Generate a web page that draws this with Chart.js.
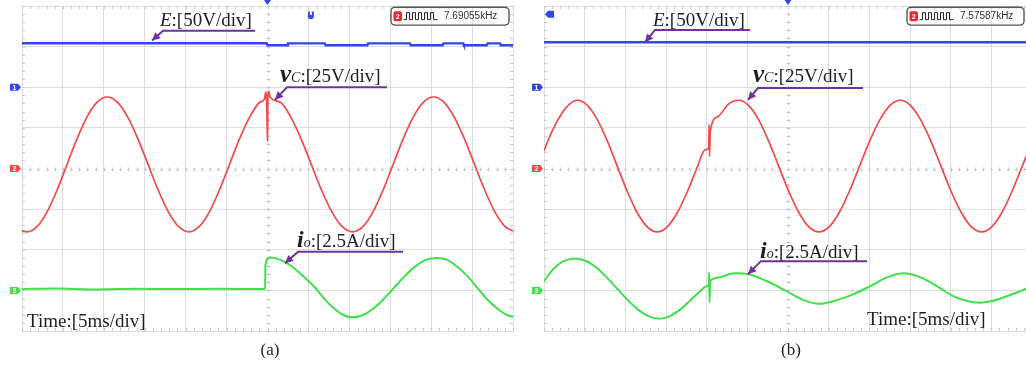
<!DOCTYPE html>
<html lang="en">
<head>
<meta charset="UTF-8">
<meta name="viewport" content="width=device-width, initial-scale=1.0">
<title>Scope captures (a) and (b)</title>
<script src="https://cdn.jsdelivr.net/npm/chart.js"></script>
<style>
    body {
        margin: 0;
        width: 1026px;
        height: 367px;
        overflow: hidden;
        position: relative;
        background: #fff;
    }
    canvas {
        position: absolute;
        top: 0;
    }
    #scopeA { left: 0; }
    #scopeB { left: 520px; }
</style>
</head>
<body>
<canvas id="scopeA" width="520" height="367"></canvas>
<canvas id="scopeB" width="520" height="367"></canvas>
<script>
// screen grid: 12 divisions of 5 ms across, 8 divisions up
const timeDivs = [0, 5, 10, 15, 20, 25, 30, 35, 40, 45, 50, 55, 60];
const screenDivs = [-4, -3, -2, -1, 0, 1, 2, 3, 4];

// channel sensitivity (per div) and ground marker position (div)
const eScale = 50, vcScale = 25, ioScale = 2.5;
const eOffset = 2, vcOffset = 0, ioOffset = -3;

// ---- capture (a): load switched in at 30 ms ----
const eTimeA = [0, 29.9, 30.0, 32.4, 32.5, 37.0, 37.1, 42.2, 42.3, 47.4, 47.5, 51.4, 51.5, 53.9, 54.0, 56.8, 56.9, 58.4, 58.5, 60];
const eA     = [54.2, 54.2, 51.7, 51.7, 54.0, 54.0, 51.7, 51.7, 54.0, 54.0, 51.7, 51.7, 54.0, 54.0, 51.7, 51.7, 54.0, 54.0, 51.7, 51.7];

const vcTimeA = [0, 0.6, 1.83, 3.05, 4.28, 5.5, 6.73, 7.95, 9.18, 10.4,
                 11.65, 12.9, 14.15, 15.4, 16.65, 17.9, 19.15, 20.4,
                 21.64, 22.88, 24.11, 25.35, 26.59, 27.83, 29.06, 29.6, 29.8, 29.9, 30.0, 30.05, 30.15, 30.3,
                 31.56, 32.83, 34.09, 35.35, 36.61, 37.88, 39.14, 40.4,
                 41.64, 42.88, 44.11, 45.35, 46.59, 47.83, 49.06, 50.3,
                 51.55, 52.8, 54.05, 55.3, 56.55, 57.8, 59.05, 60.3];
const vcA     = [-38.2, -39, -35.8, -26.8, -13.4, 2.5, 18.4, 31.8, 40.8, 44,
                 40.8, 31.8, 18.4, 2.5, -13.4, -26.8, -35.8, -39,
                 -35.8, -26.8, -13.4, 2.5, 18.4, 31.8, 40.8, 42.5, 47, 41, 17, 46, 47.5, 44,
                 40.8, 31.8, 18.4, 2.5, -13.4, -26.8, -35.8, -39,
                 -35.8, -26.8, -13.4, 2.5, 18.4, 31.8, 40.8, 44,
                 40.8, 31.8, 18.4, 2.5, -13.4, -26.8, -35.8, -39];

const ioTimeA = [0, 4, 9, 14, 19, 24, 29.7, 29.75, 30.3, 31.6, 32.9, 34.3, 35.8, 37.0, 38.1, 39.2, 40.3,
                 41.6, 42.9, 44.2, 45.5, 46.8, 48.1, 49.4, 50.7, 51.9, 53.1, 54.4, 55.6, 56.8, 58.1, 59.3, 60];
const ioA     = [0.09, 0.12, 0.06, 0.1, 0.08, 0.1, 0.08, 1.6, 2.03, 1.88, 1.5, 0.9, 0.18, -0.55, -1.1, -1.5, -1.66,
                 -1.53, -1.13, -0.53, 0.18, 0.89, 1.49, 1.89, 2.0, 1.89, 1.49, 0.89, 0.18, -0.53, -1.13, -1.53, -1.62];

// ---- capture (b): disturbance at about 20 ms ----
const eTimeB = [0, 60];
const eB     = [55.4, 55.4];

const vcTimeB = [0, 1.0, 2.2, 3.1, 4.1,
                 5.33, 6.55, 7.78, 9.0, 10.23, 11.45, 12.68, 13.9,
                 15.15, 16.4, 17.65, 18.9, 19.8, 20.25, 20.3, 20.35, 20.45, 21.4, 22.65, 23.9,
                 25.14, 26.38, 27.61, 28.85, 30.09, 31.33, 32.56, 33.8,
                 35.05, 36.3, 37.55, 38.8, 40.05, 41.3, 42.55, 43.8,
                 45.05, 46.3, 47.55, 48.8, 50.05, 51.3, 52.55, 53.8,
                 55.05, 56.3, 57.55, 58.8, 60];
const vcB     = [11, 23, 34, 39.5, 42,
                 38.9, 30.1, 17, 1.5, -14, -27.1, -35.9, -39,
                 -35.9, -27.1, -14, 1.5, 11.5, 12.5, 27, 7.4, 23, 32, 39.5, 42,
                 38.9, 30.1, 17, 1.5, -14, -27.1, -35.9, -39,
                 -35.9, -27.1, -14, 1.5, 17, 30.1, 38.9, 42,
                 38.9, 30.1, 17, 1.5, -14, -27.1, -35.9, -39,
                 -35.9, -27.1, -14, 1.5, 16];

const ioTimeB = [0, 1.1, 2.4, 3.8, 5.1, 6.4, 7.7, 9.0, 10.3, 11.6, 12.9, 14.1, 15.4, 16.7, 18.0, 19.2, 20.0,
                 20.25, 20.3, 20.35, 20.45, 21.6, 22.6, 23.7, 24.8, 25.7, 27.7, 29.8, 31.9, 33.9, 36.0, 38.0, 40.1,
                 42.2, 44.2, 46.3, 48.3, 50.3, 52.0, 53.6, 55.0, 56.4, 59.3, 60];
const ioB     = [0.57, 1.29, 1.8, 1.95, 1.82, 1.42, 0.8, 0.1, -0.6, -1.2, -1.6, -1.74, -1.6, -1.2, -0.6, -0.05, 0.26,
                 0.35, 1.1, -0.74, 0.6, 0.8, 0.98, 1.05, 1.02, 0.92, 0.5, -0.04, -0.6, -0.82, -0.6, -0.25, 0.26,
                 0.8, 1.05, 0.8, 0.26, -0.35, -0.65, -0.76, -0.66, -0.45, 0.1, 0.25];

const BLUE = '#3346e6';
const RED = '#f24a4a';
const GREEN = '#3fe04c';
const PURPLE = '#7030a0';
const GRID = '#dddddd';
const TICK = '#c9c9c9';
const INK = '#1e1e1e';

const SERIF = '"Liberation Serif", "Times New Roman", serif';
const LABEL_E = [['E', 'italic 19px ' + SERIF], [':[50V/div]', '19px ' + SERIF]];
const LABEL_VC = [['v', 'bold italic 25px ' + SERIF], ['C', 'italic 14px ' + SERIF], [':[25V/div]', '19px ' + SERIF]];
const LABEL_IO = [['i', 'bold italic 24px ' + SERIF], ['o', 'italic 14px ' + SERIF], [':[2.5A/div]', '19px ' + SERIF]];
const LABEL_TIME = [['Time:[5ms/div]', '19px ' + SERIF]];

// annotation layout, in (ms, div)
const decor = {
    scopeA: {
        labels: [[16.86, 3.51, LABEL_E], [31.53, 2.13, LABEL_VC], [33.6, -1.93, LABEL_IO], [0.61, -3.9, LABEL_TIME]],
        arrows: [
            [[28.47, 3.39], [17.23, 3.39], [15.89, 3.15]],
            [[44.6, 2.0], [32.38, 2.0], [30.92, 1.69]],
            [[46.56, -2.05], [33.73, -2.05], [32.14, -2.33]]
        ],
        caption: [30.3, -4.59, '(a)'],
        freq: [45.09, 3.97, 59.51, 3.53, '7.69055kHz'],
        level: [35.3, 3.78],
        topLeft: false
    },
    scopeB: {
        labels: [[13.4, 3.51, LABEL_E], [25.7, 2.13, LABEL_VC], [26.56, -2.2, LABEL_IO], [39.71, -3.85, LABEL_TIME]],
        arrows: [
            [[25.33, 3.41], [13.65, 3.41], [12.42, 3.11]],
            [[39.22, 1.98], [26.31, 1.98], [25.08, 1.69]],
            [[39.71, -2.28], [26.68, -2.28], [25.08, -2.6]]
        ],
        caption: [30.37, -4.59, '(b)'],
        freq: [44.63, 3.97, 59.02, 3.53, '7.57587kHz'],
        level: null,
        topLeft: true
    }
};

function drawRich(ctx, x, y, parts) {
    ctx.fillStyle = INK;
    ctx.textBaseline = 'alphabetic';
    ctx.textAlign = 'left';
    for (const [text, font] of parts) {
        ctx.font = font;
        ctx.fillText(text, x, y);
        x += ctx.measureText(text).width;
    }
}

function drawArrow(ctx, pts) {
    ctx.strokeStyle = PURPLE;
    ctx.fillStyle = PURPLE;
    ctx.lineWidth = 2;
    ctx.beginPath();
    ctx.moveTo(pts[0][0], pts[0][1]);
    for (let i = 1; i < pts.length; i++) ctx.lineTo(pts[i][0], pts[i][1]);
    ctx.stroke();
    const [kx, ky] = pts[pts.length - 2];
    const [tx, ty] = pts[pts.length - 1];
    const ang = Math.atan2(ty - ky, tx - kx);
    ctx.beginPath();
    ctx.moveTo(tx, ty);
    ctx.lineTo(tx - 8 * Math.cos(ang) + 4 * Math.sin(ang), ty - 8 * Math.sin(ang) - 4 * Math.cos(ang));
    ctx.lineTo(tx - 8 * Math.cos(ang) - 4 * Math.sin(ang), ty - 8 * Math.sin(ang) + 4 * Math.cos(ang));
    ctx.closePath();
    ctx.fill();
}

function channelTag(ctx, xr, y, color, num) {
    const xl = xr - 11;
    ctx.fillStyle = color;
    ctx.beginPath();
    ctx.moveTo(xl, y - 3.5);
    ctx.lineTo(xr - 3, y - 3.5);
    ctx.lineTo(xr, y);
    ctx.lineTo(xr - 3, y + 3.5);
    ctx.lineTo(xl, y + 3.5);
    ctx.closePath();
    ctx.fill();
    ctx.fillStyle = '#fff';
    ctx.font = 'bold 7px "Liberation Sans", sans-serif';
    ctx.textAlign = 'center';
    ctx.textBaseline = 'middle';
    ctx.fillText(num, xl + 4.5, y + 0.5);
}

function freqBox(ctx, x1, y1, x2, y2, text) {
    ctx.strokeStyle = '#555';
    ctx.lineWidth = 1.4;
    ctx.beginPath();
    ctx.roundRect(x1, y1, x2 - x1, y2 - y1, 4);
    ctx.stroke();
    const my = (y1 + y2) / 2;
    ctx.fillStyle = '#e82630';
    ctx.beginPath();
    ctx.roundRect(x1 + 2.5, my - 5, 8.5, 10, 2);
    ctx.fill();
    ctx.fillStyle = '#fff';
    ctx.font = 'bold 7px "Liberation Sans", sans-serif';
    ctx.textAlign = 'center';
    ctx.textBaseline = 'middle';
    ctx.fillText('2', x1 + 6.8, my + 0.5);
    // square-wave glyph
    ctx.strokeStyle = '#222';
    ctx.lineWidth = 1;
    ctx.beginPath();
    let wx = x1 + 12.5;
    const lo = my + 3.5, hi = my - 3.5;
    ctx.moveTo(wx, lo);
    wx += 3;
    for (let k = 0; k < 5; k++) {
        ctx.lineTo(wx, lo); ctx.lineTo(wx, hi);
        wx += 3; ctx.lineTo(wx, hi); ctx.lineTo(wx, lo);
        wx += 3;
    }
    ctx.lineTo(wx + 1, lo);
    ctx.stroke();
    ctx.fillStyle = '#333';
    ctx.font = '10px "Liberation Sans", sans-serif';
    ctx.textAlign = 'left';
    ctx.fillText(text, x1 + 53, my + 0.5);
}

const scopeDecor = {
    id: 'scopeDecor',
    beforeDatasetsDraw(chart) {
        const { ctx, chartArea: a } = chart;
        const x = chart.scales.x, y = chart.scales.yDiv;
        const cx = Math.round(x.getPixelForValue(30)) + 0.5;
        const cy = Math.round(y.getPixelForValue(0)) + 0.5;
        ctx.save();
        ctx.strokeStyle = TICK;
        ctx.lineWidth = 1;
        ctx.beginPath();
        // minor ticks, 5 per division, on the centre lines and the frame
        for (let i = 0; i <= 60; i++) {
            const p = Math.round(x.getPixelForValue(i)) + 0.5;
            ctx.moveTo(p - 1.5, cy); ctx.lineTo(p + 1.5, cy);
            ctx.moveTo(p, cy - 2); ctx.lineTo(p, cy + 2);
            ctx.moveTo(p, a.top); ctx.lineTo(p, a.top + 3);
            ctx.moveTo(p, a.bottom); ctx.lineTo(p, a.bottom - 3);
        }
        for (let i = 0; i <= 40; i++) {
            const q = Math.round(y.getPixelForValue(-4 + i * 0.2)) + 0.5;
            ctx.moveTo(cx, q - 1.5); ctx.lineTo(cx, q + 1.5);
            ctx.moveTo(cx - 2, q); ctx.lineTo(cx + 2, q);
            ctx.moveTo(a.left, q); ctx.lineTo(a.left + 3, q);
            ctx.moveTo(a.right, q); ctx.lineTo(a.right - 3, q);
        }
        ctx.stroke();
        ctx.restore();
    },
    afterDraw(chart) {
        const { ctx, chartArea: a } = chart;
        const x = chart.scales.x, y = chart.scales.yDiv;
        const P = (t, d) => [x.getPixelForValue(t), y.getPixelForValue(d)];
        const d = decor[chart.canvas.id];
        ctx.save();

        channelTag(ctx, a.left - 1, y.getPixelForValue(eOffset), BLUE, '1');
        channelTag(ctx, a.left - 1, y.getPixelForValue(vcOffset), RED, '2');
        channelTag(ctx, a.left - 1, y.getPixelForValue(ioOffset), GREEN, '3');

        // trigger position
        const tx = x.getPixelForValue(30);
        ctx.fillStyle = BLUE;
        ctx.beginPath();
        ctx.moveTo(tx - 3.5, 0); ctx.lineTo(tx + 3.5, 0); ctx.lineTo(tx, 5);
        ctx.closePath();
        ctx.fill();

        if (d.level) {
            const [lx, ly] = P(d.level[0], d.level[1]);
            ctx.fillStyle = BLUE;
            ctx.beginPath();
            ctx.roundRect(lx - 3, ly - 4, 6, 8, 2.5);
            ctx.fill();
            ctx.fillStyle = '#fff';
            ctx.fillRect(lx - 1, ly - 4, 2, 4);
        }
        if (d.topLeft) {
            const [lx, ly] = P(0.5, 3.8);
            ctx.fillStyle = BLUE;
            ctx.beginPath();
            ctx.moveTo(lx - 3, ly);
            ctx.lineTo(lx, ly - 3.5);
            ctx.lineTo(lx + 6, ly - 3.5);
            ctx.lineTo(lx + 6, ly + 3.5);
            ctx.lineTo(lx, ly + 3.5);
            ctx.closePath();
            ctx.fill();
        }

        for (const [t, dv, parts] of d.labels) {
            const [lx, ly] = P(t, dv);
            drawRich(ctx, lx, ly, parts);
        }
        for (const arr of d.arrows) drawArrow(ctx, arr.map(([t, dv]) => P(t, dv)));

        const [fx1, fy1] = P(d.freq[0], d.freq[1]);
        const [fx2, fy2] = P(d.freq[2], d.freq[3]);
        freqBox(ctx, fx1, fy1, fx2, fy2, d.freq[4]);

        const [cxp, cyp] = P(d.caption[0], d.caption[1]);
        ctx.fillStyle = INK;
        ctx.font = '17px ' + SERIF;
        ctx.textAlign = 'center';
        ctx.textBaseline = 'alphabetic';
        ctx.fillText(d.caption[2], cxp, cyp);
        ctx.restore();
    }
};

function trace(label, ts, vs, axis, color, width, smooth) {
    return {
        label: label,
        data: ts.map((t, i) => ({ x: t, y: vs[i] })),
        yAxisID: axis,
        borderColor: color,
        borderWidth: width,
        pointRadius: 0,
        fill: false,
        cubicInterpolationMode: smooth ? 'monotone' : 'default',
        tension: 0
    };
}

function gridAxis(values, centre) {
    return {
        afterBuildTicks: s => { s.ticks = values.map(v => ({ value: v })); },
        ticks: { display: false },
        grid: {
            color: c => (c.tick && c.tick.value === centre) ? 'rgba(0,0,0,0)' : GRID,
            lineWidth: 1,
            drawTicks: false
        },
        border: { display: false }
    };
}

function makeScope(id, pad, e, vc, io) {
    return new Chart(document.getElementById(id), {
        type: 'line',
        data: {
            datasets: [
                trace('E', e[0], e[1], 'yE', BLUE, 2.4, false),
                trace('vC', vc[0], vc[1], 'yV', RED, 1.7, true),
                trace('io', io[0], io[1], 'yI', GREEN, 2, true)
            ]
        },
        options: {
            responsive: false,
            animation: false,
            events: [],
            layout: { padding: pad },
            plugins: { legend: { display: false }, tooltip: { enabled: false } },
            scales: {
                x: Object.assign({ type: 'linear', min: 0, max: 60 }, gridAxis(timeDivs, 30)),
                yDiv: Object.assign({ type: 'linear', position: 'left', min: -4, max: 4 }, gridAxis(screenDivs, 0)),
                yE: { display: false, min: (-4 - eOffset) * eScale, max: (4 - eOffset) * eScale },
                yV: { display: false, min: (-4 - vcOffset) * vcScale, max: (4 - vcOffset) * vcScale },
                yI: { display: false, min: (-4 - ioOffset) * ioScale, max: (4 - ioOffset) * ioScale }
            }
        },
        plugins: [scopeDecor]
    });
}

makeScope('scopeA', { left: 22, right: 7, top: 6, bottom: 36 },
    [eTimeA, eA], [vcTimeA, vcA], [ioTimeA, ioA]);
makeScope('scopeB', { left: 24, right: 8, top: 6, bottom: 36 },
    [eTimeB, eB], [vcTimeB, vcB], [ioTimeB, ioB]);
</script>
</body>
</html>
